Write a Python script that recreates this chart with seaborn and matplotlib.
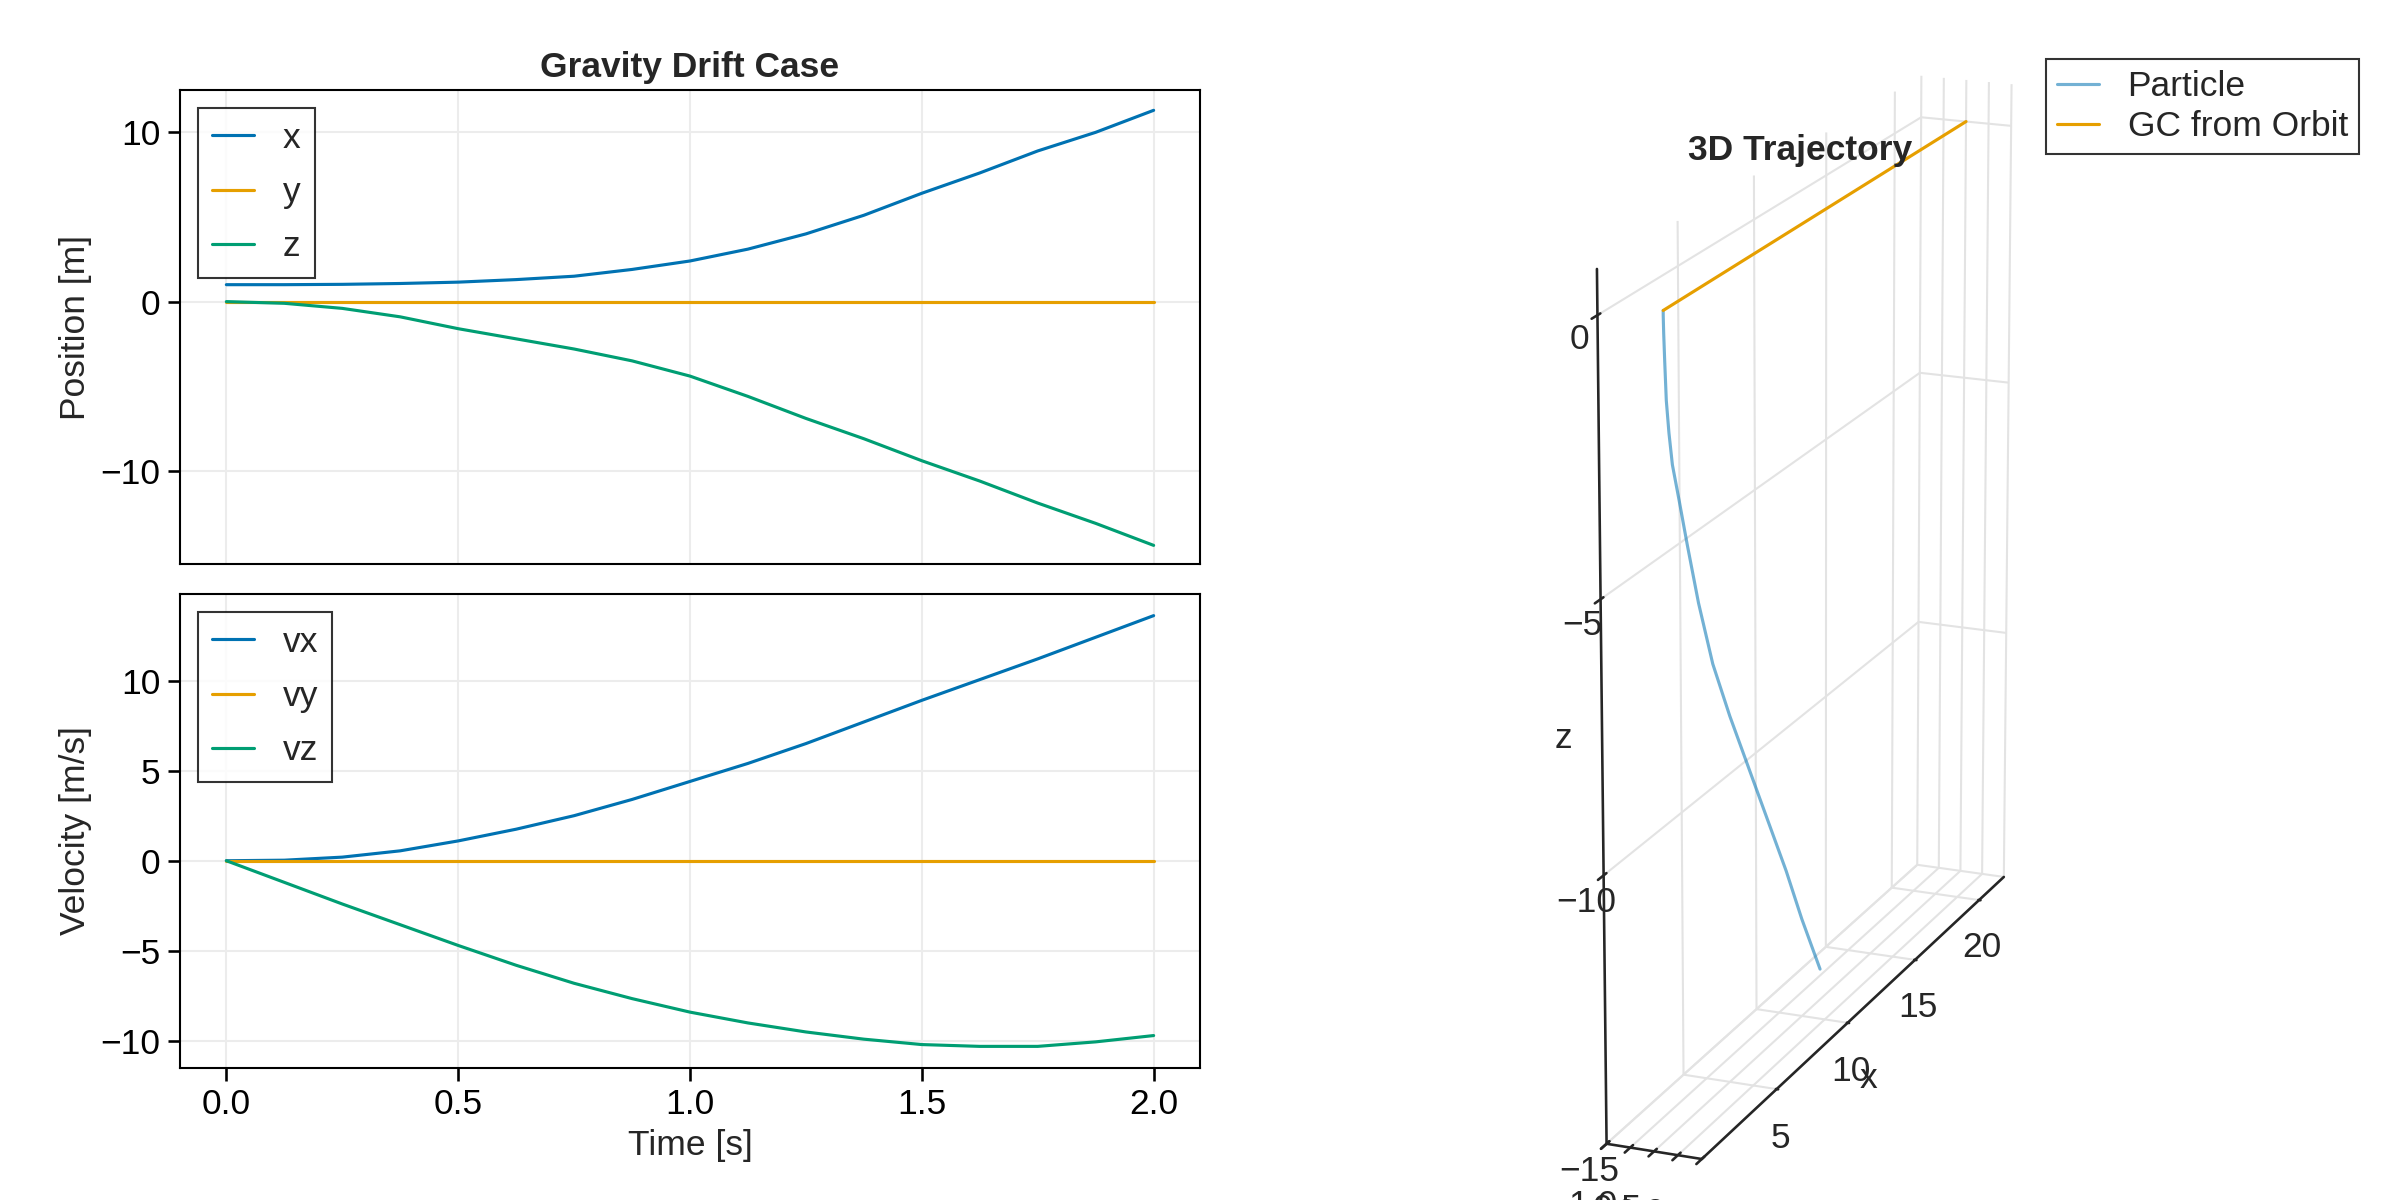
import numpy as np
import pandas as pd
import seaborn as sns
import matplotlib.pyplot as plt

# 读取的数据 (t = 0 .. 2 s)
t = [0.0, 0.125, 0.25, 0.375, 0.5, 0.625, 0.75, 0.875, 1.0,
     1.125, 1.25, 1.375, 1.5, 1.625, 1.75, 1.875, 2.0]
pos_x = [1.0, 1.0, 1.02, 1.07, 1.15, 1.3, 1.5, 1.9, 2.4,
         3.1, 4.0, 5.1, 6.4, 7.6, 8.9, 10.0, 11.3]
pos_y = [0] * 17
pos_z = [0.0, -0.1, -0.4, -0.9, -1.6, -2.2, -2.8, -3.5, -4.4,
         -5.6, -6.9, -8.1, -9.4, -10.6, -11.9, -13.1, -14.4]
vel_x = [0.0, 0.03, 0.2, 0.55, 1.1, 1.75, 2.5, 3.4, 4.4,
         5.4, 6.5, 7.7, 8.9, 10.05, 11.2, 12.4, 13.6]
vel_y = [0] * 17
vel_z = [0.0, -1.2, -2.4, -3.55, -4.7, -5.8, -6.8, -7.65, -8.4,
         -9.0, -9.5, -9.9, -10.2, -10.3, -10.3, -10.05, -9.7]
gc_x = [1.0, 22.0]
gc_y = [0.0, 0.0]
gc_z = [0.0, 0.0]

colors = ['#0072B2', '#E69F00', '#009E73']

sns.set_theme(style='ticks')
plt.rcParams['font.family'] = ['Liberation Sans', 'DejaVu Sans']
plt.rcParams['font.size'] = 17

fig = plt.figure(figsize=(16, 8), dpi=150)
ax1 = fig.add_axes([0.075, 0.53, 0.425, 0.395])
ax2 = fig.add_axes([0.075, 0.11, 0.425, 0.395], sharex=ax1)
ax3 = fig.add_axes([0.5, 0.0, 0.5, 0.98], projection='3d')

df_pos = pd.DataFrame({'t': t, 'x': pos_x, 'y': pos_y, 'z': pos_z})
df_vel = pd.DataFrame({'t': t, 'vx': vel_x, 'vy': vel_y, 'vz': vel_z})

for ax, df, cols in [(ax1, df_pos, ['x', 'y', 'z']), (ax2, df_vel, ['vx', 'vy', 'vz'])]:
    for c, col in zip(cols, colors):
        sns.lineplot(data=df, x='t', y=c, ax=ax, color=col, label=c, linewidth=1.5)
    ax.grid(True, color='#ececec')
    leg = ax.legend(loc='upper left', fontsize=17, frameon=True, fancybox=False,
                    edgecolor='black', handlelength=1.2, borderpad=0.4,
                    labelspacing=0.6)
    leg.get_frame().set_linewidth(1)
    ax.tick_params(labelsize=17, colors='black')
    for s in ax.spines.values():
        s.set_linewidth(1)
        s.set_color('black')

ax1.set_title('Gravity Drift Case', fontweight='bold', fontsize=17)
ax1.set_ylabel('Position [m]', fontsize=17)
ax1.set_xlabel('')
ax1.set_yticks([-10, 0, 10])
ax1.set_ylim(-15.5, 12.5)
ax1.tick_params(labelbottom=False, bottom=False)
ax2.set_ylabel('Velocity [m/s]', fontsize=17)
ax2.set_xlabel('Time [s]', fontsize=17)
ax2.set_yticks([-10, -5, 0, 5, 10])
ax2.set_ylim(-11.5, 14.8)
ax2.set_xlim(-0.1, 2.1)
ax2.set_xticks([0, 0.5, 1.0, 1.5, 2.0])

# 3D 轨迹
ax3.plot(pos_x, pos_y, pos_z, color='#0072B2', alpha=0.55, linewidth=1.5, label='Particle')
ax3.plot(gc_x, gc_y, gc_z, color='#E69F00', linewidth=1.5, label='GC from Orbit')
ax3.set_xlim(0, 22)
ax3.set_ylim(-1, 1)
ax3.set_zlim(-15, 0.8)
ax3.set_xticks([5, 10, 15, 20])
ax3.set_yticks([-1.0, -0.5, 0.0, 0.5, 1.0])
ax3.set_zticks([-15, -10, -5, 0])
ax3.set_xlabel('x', fontsize=17)
ax3.set_ylabel('y', fontsize=17)
ax3.set_zlabel('z', fontsize=17)
ax3.tick_params(labelsize=17)
ax3.set_box_aspect((1.0, 0.12, 1.05))
ax3.view_init(elev=18, azim=-158)
for a in (ax3.xaxis, ax3.yaxis, ax3.zaxis):
    a.set_pane_color((1, 1, 1, 0))
    a._axinfo['grid']['color'] = '#e3e3e3'
ax3.set_title('3D Trajectory', fontweight='bold', fontsize=17, y=0.95)
leg = ax3.legend(loc='upper right', fontsize=17, fancybox=False, edgecolor='black',
                 handlelength=1.2, borderpad=0.3, labelspacing=0.2,
                 bbox_to_anchor=(0.99, 0.985))

fig.savefig('out.png', dpi=150, facecolor='white')
